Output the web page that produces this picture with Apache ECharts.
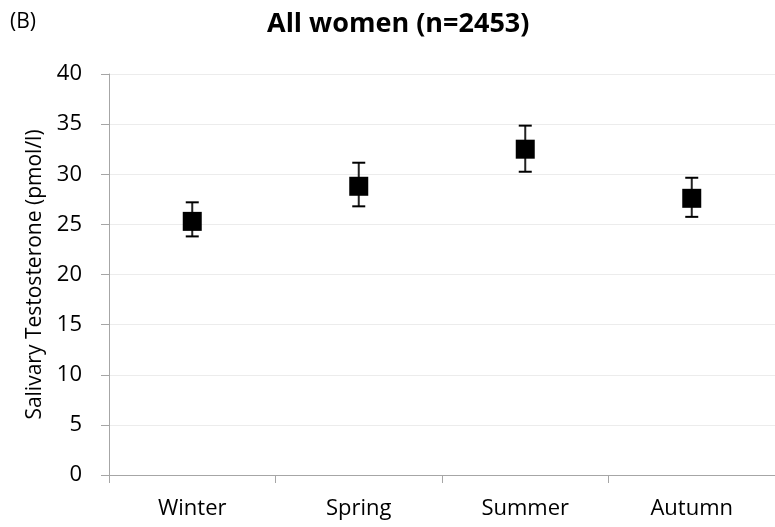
<!DOCTYPE html>
<html>
<head>
<meta charset="utf-8">
<script src="https://cdn.jsdelivr.net/npm/echarts@6/dist/echarts.min.js"></script>
<style>html,body{margin:0;padding:0;background:#fff}#c{width:775px;height:527px}</style>
</head>
<body>
<div id="c"></div>
<script>
const categories = ['Winter', 'Spring', 'Summer', 'Autumn'];
const means = [25.3, 28.8, 32.5, 27.6];
const lower = [23.8, 26.8, 30.25, 25.75];
const upper = [27.2, 31.15, 34.85, 29.65];
const yTicks = { min: 0, max: 40, interval: 5 };

const FONT = '"Open Sans", "Liberation Sans", sans-serif';
const chart = echarts.init(document.getElementById('c'), null, { renderer: 'canvas' });

const errData = categories.map((c, i) => [i, lower[i], upper[i]]);

chart.setOption({
  animation: false,
  backgroundColor: '#ffffff',
  title: [
    { text: 'All women (n=2453)', left: 262, top: 6,
      textStyle: { fontFamily: FONT, fontSize: 27, fontWeight: 'bold', color: '#000' } },
    { text: '(B)', left: 5, top: 7,
      textStyle: { fontFamily: FONT, fontSize: 21, fontWeight: 'normal', color: '#000' } }
  ],
  grid: { left: 109, right: -10, top: 74, bottom: 52, containLabel: false },
  xAxis: {
    type: 'category',
    data: categories,
    boundaryGap: true,
    axisLine: { show: true, lineStyle: { color: '#a6a6a6', width: 1 } },
    axisTick: { show: true, alignWithLabel: false, length: 8, lineStyle: { color: '#a6a6a6' } },
    axisLabel: { margin: 23, fontFamily: FONT, fontSize: 22, color: '#000' },
    splitLine: { show: false }
  },
  yAxis: {
    type: 'value',
    min: yTicks.min, max: yTicks.max, interval: yTicks.interval,
    name: 'Salivary Testosterone (pmol/l)',
    nameLocation: 'middle',
    nameGap: 63,
    nameTextStyle: { fontFamily: FONT, fontSize: 21, color: '#000' },
    axisLine: { show: true, lineStyle: { color: '#a6a6a6', width: 1 } },
    axisTick: { show: true, length: 8, lineStyle: { color: '#a6a6a6' } },
    axisLabel: { margin: 27, fontFamily: FONT, fontSize: 22, color: '#000' },
    splitLine: { show: true, lineStyle: { color: '#ececec', width: 1 } }
  },
  series: [
    {
      type: 'custom',
      z: 3,
      renderItem: function (params, api) {
        const x = api.value(0);
        const lo = api.coord([x, api.value(1)]);
        const hi = api.coord([x, api.value(2)]);
        const half = 6.5;
        const style = { stroke: '#000', lineWidth: 2 };
        return {
          type: 'group',
          children: [
            { type: 'line', shape: { x1: hi[0], y1: hi[1], x2: lo[0], y2: lo[1] }, style: { stroke: '#222', lineWidth: 2 } },
            { type: 'line', shape: { x1: hi[0] - half, y1: hi[1], x2: hi[0] + half, y2: hi[1] }, style: style },
            { type: 'line', shape: { x1: lo[0] - half, y1: lo[1], x2: lo[0] + half, y2: lo[1] }, style: style }
          ]
        };
      },
      encode: { x: 0, y: [1, 2] },
      data: errData
    },
    {
      type: 'scatter',
      z: 4,
      symbol: 'rect',
      symbolSize: 19,
      itemStyle: { color: '#000', opacity: 1 },
      data: means
    }
  ]
});
</script>
</body>
</html>
